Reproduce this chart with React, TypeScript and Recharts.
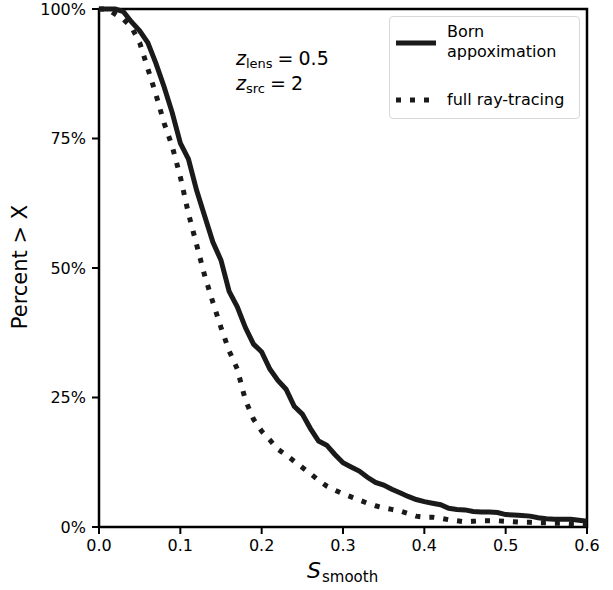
import React from 'react';
import { LineChart, Line, XAxis, YAxis, ReferenceArea } from 'recharts';

// S_smooth grid (0.00 .. 0.60) and percent of sources above each value
const sSmooth = [
  0.0, 0.01, 0.02, 0.03, 0.04, 0.05, 0.06, 0.07, 0.08, 0.09, 0.1, 0.11, 0.12, 0.13, 0.14, 0.15,
  0.16, 0.17, 0.18, 0.19, 0.2, 0.21, 0.22, 0.23, 0.24, 0.25, 0.26, 0.27, 0.28, 0.29, 0.3, 0.31,
  0.32, 0.33, 0.34, 0.35, 0.36, 0.37, 0.38, 0.39, 0.4, 0.41, 0.42, 0.43, 0.44, 0.45, 0.46, 0.47,
  0.48, 0.49, 0.5, 0.51, 0.52, 0.53, 0.54, 0.55, 0.56, 0.57, 0.58, 0.59, 0.6,
];

const bornPct = [
  100, 100, 100, 99.5, 97.5, 95.8, 93.5, 89.5, 85, 80, 74.1, 71, 65, 60, 55, 51.5,
  45.5, 42.5, 38.5, 35.3, 33.8, 30.5, 28.3, 26.6, 23.3, 21.8, 19, 16.6, 15.8, 14, 12.4, 11.6,
  10.8, 9.6, 8.6, 8.1, 7.3, 6.6, 5.9, 5.3, 4.9, 4.6, 4.3, 3.6, 3.4, 3.3, 3.0, 2.9,
  2.9, 2.8, 2.4, 2.3, 2.2, 2.1, 1.8, 1.6, 1.5, 1.5, 1.5, 1.3, 1.1,
];

const rayPct = [
  100, 100, 99, 98, 96.5, 93.5, 88.5, 83.5, 78, 73.5, 67.6, 60.5, 54.5, 48.5, 43.4, 38.5,
  34, 30.5, 24.5, 20.8, 18.5, 16.8, 15, 13.9, 12.7, 11.5, 10.3, 9, 7.9, 7.1, 6.4, 5.8,
  5.2, 4.6, 4.1, 3.7, 3.4, 3.1, 2.6, 2.1, 1.9, 1.9, 1.7, 1.4, 1.2, 1.0, 1.1, 1.2,
  1.2, 1.2, 1.1, 1.0, 0.9, 0.9, 0.8, 0.8, 0.7, 0.7, 0.6, 0.6, 0.5,
];

const xTicks = [0, 0.1, 0.2, 0.3, 0.4, 0.5, 0.6];
const yTicks = [0, 25, 50, 75, 100];

const data = sSmooth.map((s, i) => ({ s, born: bornPct[i], ray: rayPct[i] }));

const FONT = 'DejaVu Sans, sans-serif';
const INK = '#1a1a1a';

const sub = (t: string) => (
  <span style={{ fontSize: 13, position: 'relative', top: 3 }}>{t}</span>
);

export default function App() {
  return (
    <div style={{ position: 'absolute', left: 0, top: 0, width: 613, height: 590, background: '#fff', fontFamily: FONT }}>
      <LineChart width={613} height={590} data={data} margin={{ top: 9, right: 26, left: 0, bottom: 0 }}>
        <XAxis
          dataKey="s"
          type="number"
          domain={[0, 0.6]}
          ticks={xTicks}
          tickFormatter={(v: number) => v.toFixed(1)}
          height={63}
          tickSize={7}
          tickMargin={6}
          axisLine={false}
          tickLine={{ stroke: '#000', strokeWidth: 2 }}
          tick={{ fill: '#000', fontSize: 16, fontFamily: FONT }}
        />
        <YAxis
          type="number"
          domain={[0, 100]}
          ticks={yTicks}
          tickFormatter={(v: number) => `${v}%`}
          width={99}
          tickSize={7}
          tickMargin={6}
          axisLine={false}
          tickLine={{ stroke: '#000', strokeWidth: 2 }}
          tick={{ fill: '#000', fontSize: 16, fontFamily: FONT }}
        />
        <Line dataKey="born" type="linear" stroke={INK} strokeWidth={5} dot={false} isAnimationActive={false} />
        <Line
          dataKey="ray"
          type="linear"
          stroke={INK}
          strokeWidth={5}
          strokeDasharray="5 9"
          strokeLinecap="butt"
          dot={false}
          isAnimationActive={false}
        />
        <ReferenceArea x1={0} x2={0.6} y1={0} y2={100} fill="none" stroke="#000" strokeWidth={2.5} />
      </LineChart>

      {/* y label */}
      <div
        style={{
          position: 'absolute',
          left: 20,
          top: 267,
          transform: 'translate(-50%, -50%) rotate(-90deg)',
          fontSize: 21,
          whiteSpace: 'nowrap',
        }}
      >
        Percent &gt; X
      </div>

      {/* x label */}
      <div style={{ position: 'absolute', left: 307, top: 558, fontSize: 22, lineHeight: '26px', whiteSpace: 'nowrap' }}>
        <i>S</i>
        <span style={{ fontSize: 15, position: 'relative', top: 4, marginLeft: 1 }}>smooth</span>
      </div>

      {/* redshift annotation */}
      <div style={{ position: 'absolute', left: 236, top: 47, fontSize: 19, lineHeight: '22px', whiteSpace: 'nowrap' }}>
        <div>
          <i>z</i>
          {sub('lens')}
          <span style={{ margin: '0 5px' }}>=</span>0.5
        </div>
        <div>
          <i>z</i>
          {sub('src')}
          <span style={{ margin: '0 5px' }}>=</span>2
        </div>
      </div>

      {/* legend */}
      <div
        style={{
          position: 'absolute',
          left: 389,
          top: 16,
          width: 189,
          height: 101,
          border: '1px solid #d8d8d8',
          borderRadius: 4,
          background: 'rgba(255,255,255,0.8)',
          fontSize: 16,
        }}
      >
        <svg width={52} height={110} style={{ position: 'absolute', left: 0, top: 0 }}>
          <line x1={6} y1={26} x2={46} y2={26} stroke={INK} strokeWidth={5} />
          <line x1={6} y1={83} x2={46} y2={83} stroke={INK} strokeWidth={5} strokeDasharray="5 9" />
        </svg>
        <div style={{ position: 'absolute', left: 57, top: 5, lineHeight: '20px', color: '#000' }}>
          Born
          <br />
          appoximation
        </div>
        <div style={{ position: 'absolute', left: 57, top: 73, lineHeight: '19px', color: '#000', whiteSpace: 'nowrap' }}>
          full ray-tracing
        </div>
      </div>
    </div>
  );
}
